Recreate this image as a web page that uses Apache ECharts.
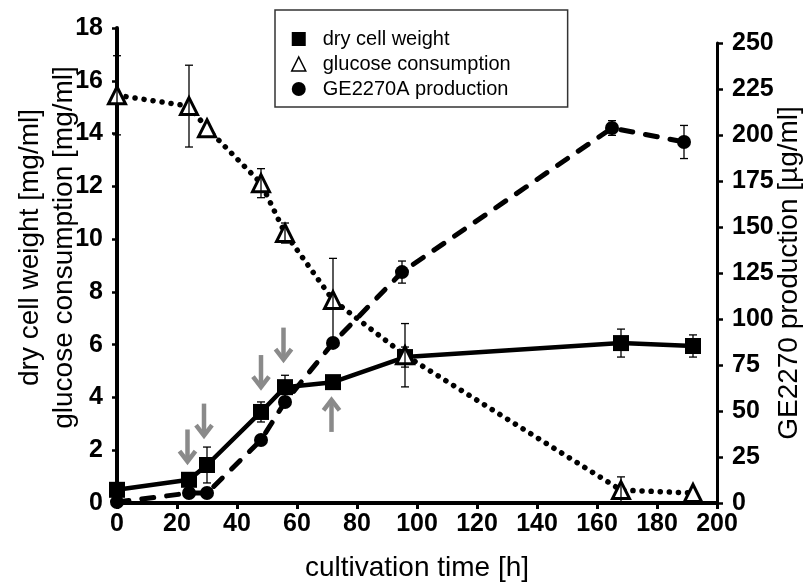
<!DOCTYPE html>
<html>
<head>
<meta charset="utf-8">
<style>
html,body{margin:0;padding:0;background:#fff;}
#chart{width:811px;height:582px;}
</style>
<script src="https://cdn.jsdelivr.net/npm/echarts@6/dist/echarts.min.js"></script>
</head>
<body>
<div id="chart"></div>
<script>
// ---- data ----
var timeTicks = [0, 20, 40, 60, 80, 100, 120, 140, 160, 180, 200];

var dcwTime   = [0, 24, 30, 48, 56, 72, 96, 168, 192];
var dcw       = [0.5, 0.88, 1.44, 3.45, 4.39, 4.58, 5.53, 6.06, 5.95];
var dcwErr    = [0, 0, 0.68, 0.38, 0.45, 0, 0.38, 0.53, 0.42];

var gluTime   = [0, 24, 30, 48, 56, 72, 96, 168, 192];
var glucose   = [15.45, 15.04, 14.2, 12.12, 10.23, 7.69, 5.6, 0.49, 0.38];
var gluErr    = [1.5, 1.55, 0, 0.55, 0.38, 1.58, 1.2, 0.5, 0];

var geTime    = [0, 24, 30, 48, 56, 72, 95, 165, 189];
var ge2270    = [0.5, 5.4, 5.4, 34.2, 54.9, 87, 125.5, 203.8, 196.2];
var geErr     = [0, 0, 0, 0, 1.5, 0, 6, 4, 9];

// feeding / sampling arrows (left-axis units), dir 1 = down, -1 = up
var arrowTime = [23.5, 29, 48, 55.5, 71.5];
var arrowVal  = [2.18, 3.16, 5.0, 6.04, 3.3];
var arrowDir  = [1, 1, 1, 1, -1];

var names = ['dry cell weight', 'glucose consumption', 'GE2270A production'];

// ---- chart ----
var FONT = "'Liberation Sans', Arial, sans-serif";
var chart = echarts.init(document.getElementById('chart'));

function pairs(xs, ys) { return xs.map(function (x, i) { return [x, ys[i]]; }); }

function errSeries(id, xs, ys, errs, xi, yi, z) {
  var d = [];
  xs.forEach(function (x, i) { if (errs[i] > 0) d.push([x, ys[i] - errs[i], ys[i] + errs[i]]); });
  return {
    type: 'custom', name: id, xAxisIndex: xi, yAxisIndex: yi, z: z, silent: true,
    encode: { x: 0, y: [1, 2] },
    data: d,
    renderItem: function (params, api) {
      var lo = api.coord([api.value(0), api.value(1)]);
      var hi = api.coord([api.value(0), api.value(2)]);
      var w = 4, st = { stroke: '#000', lineWidth: 1.3 };
      return { type: 'group', children: [
        { type: 'line', shape: { x1: lo[0], y1: lo[1], x2: hi[0], y2: hi[1] }, style: st },
        { type: 'line', shape: { x1: lo[0] - w, y1: lo[1], x2: lo[0] + w, y2: lo[1] }, style: st },
        { type: 'line', shape: { x1: hi[0] - w, y1: hi[1], x2: hi[0] + w, y2: hi[1] }, style: st }
      ]};
    }
  };
}

var axisLabelStyle = { color: '#000', fontFamily: FONT, fontWeight: 'bold', fontSize: 25 };

var option = {
  animation: false,
  backgroundColor: '#fff',
  grid: [
    { left: 117, right: 94, top: 28, bottom: 79, containLabel: false, outerBoundsMode: 'none' },
    { left: 117, right: 94, top: 43, bottom: 79, containLabel: false, outerBoundsMode: 'none' }
  ],
  legend: {
    left: 275, top: 10, orient: 'vertical',
    selectedMode: false,
    backgroundColor: '#fff',
    borderColor: '#333', borderWidth: 1.5,
    padding: [19, 57, 8, 16],
    itemWidth: 14, itemHeight: 14, itemGap: 5,
    textStyle: { fontFamily: FONT, fontSize: 20, lineHeight: 20, color: '#000', padding: [0, 0, 0, 12] },
    data: [
      { name: names[0], icon: 'rect', itemStyle: { color: '#000' } },
      { name: names[1], icon: 'triangle', itemStyle: { color: '#fff', borderColor: '#000', borderWidth: 1.5 } },
      { name: names[2], icon: 'circle', itemStyle: { color: '#000' } }
    ]
  },
  xAxis: [
    {
      type: 'value', gridIndex: 0, min: 0, max: 200, interval: 20,
      name: 'cultivation time [h]', nameLocation: 'middle', nameGap: 51, nameMoveOverlap: false,
      nameTextStyle: { fontFamily: FONT, fontSize: 28, color: '#000' },
      axisLine: { show: true, onZero: false, lineStyle: { color: '#000', width: 4 } },
      axisTick: { show: true, inside: false, length: 6, lineStyle: { color: '#000', width: 3 } },
      axisLabel: Object.assign({ margin: 9 }, axisLabelStyle),
      splitLine: { show: false }
    },
    {
      type: 'value', gridIndex: 1, min: 0, max: 200, interval: 20, show: false,
      axisLine: { onZero: false },
      splitLine: { show: false }
    }
  ],
  yAxis: [
    {
      type: 'value', gridIndex: 0, min: 0, max: 18, interval: 2, position: 'left',
      name: 'dry cell weight [mg/ml]\nglucose consumption [mg/ml]',
      nameLocation: 'middle', nameRotate: 90, nameGap: 36, nameMoveOverlap: false,
      nameTextStyle: { fontFamily: FONT, fontSize: 28, color: '#000', lineHeight: 34, padding: [0, 0, 0, 36] },
      axisLine: { show: true, onZero: false, lineStyle: { color: '#000', width: 4 } },
      axisTick: { show: true, inside: false, length: 5, lineStyle: { color: '#000', width: 2.5 } },
      axisLabel: Object.assign({ margin: 14 }, axisLabelStyle),
      splitLine: { show: false }
    },
    {
      type: 'value', gridIndex: 1, min: 0, max: 250, interval: 25, position: 'right',
      name: 'GE2270 production [µg/ml]',
      nameLocation: 'middle', nameRotate: 90, nameGap: 58, nameMoveOverlap: false,
      nameTextStyle: { fontFamily: FONT, fontSize: 28, lineHeight: 28, color: '#000' },
      axisLine: { show: true, onZero: false, lineStyle: { color: '#000', width: 3 } },
      axisTick: { show: true, inside: false, length: 6, lineStyle: { color: '#000', width: 2.5 } },
      axisLabel: Object.assign({ margin: 15 }, axisLabelStyle),
      splitLine: { show: false }
    }
  ],
  series: [
    {
      name: names[2], type: 'line', xAxisIndex: 1, yAxisIndex: 1, z: 2,
      data: pairs(geTime, ge2270),
      symbol: 'circle', symbolSize: 14,
      itemStyle: { color: '#000' },
      lineStyle: { color: '#000', width: 5, type: [12, 13], cap: 'round' }
    },
    errSeries('geErr', geTime, ge2270, geErr, 1, 1, 3),
    {
      name: names[0], type: 'line', xAxisIndex: 0, yAxisIndex: 0, z: 4,
      data: pairs(dcwTime, dcw),
      symbol: 'rect', symbolSize: 16,
      itemStyle: { color: '#000' },
      lineStyle: { color: '#000', width: 4.5, type: 'solid' }
    },
    errSeries('dcwErr', dcwTime, dcw, dcwErr, 0, 0, 5),
    {
      name: names[1], type: 'line', xAxisIndex: 0, yAxisIndex: 0, z: 6,
      data: pairs(gluTime, glucose),
      symbol: 'triangle', symbolSize: [17, 17],
      itemStyle: { color: '#fff', borderColor: '#000', borderWidth: 3 },
      lineStyle: { color: '#000', width: 5.5, type: [0.1, 9], cap: 'round' }
    },
    errSeries('gluErr', gluTime, glucose, gluErr, 0, 0, 7),
    {
      type: 'custom', name: 'arrows', xAxisIndex: 0, yAxisIndex: 0, z: 8, silent: true,
      encode: { x: 0, y: 1 },
      data: arrowTime.map(function (t, i) { return [t, arrowVal[i], arrowDir[i]]; }),
      renderItem: function (params, api) {
        var c = api.coord([api.value(0), api.value(1)]);
        var s = api.value(2), L = 32, hw = 8;
        var tipY = c[1] + s * L / 2, baseY = c[1] - s * L / 2;
        var st = { stroke: '#8a8a8a', lineWidth: 4.5, fill: null };
        return { type: 'group', children: [
          { type: 'line', shape: { x1: c[0], y1: baseY, x2: c[0], y2: tipY - s * 2 }, style: st },
          { type: 'polyline', shape: { points: [[c[0] - hw, tipY - s * hw * 1.3], [c[0], tipY], [c[0] + hw, tipY - s * hw * 1.3]] }, style: st }
        ]};
      }
    }
  ]
};
chart.setOption(option);
</script>
</body>
</html>
